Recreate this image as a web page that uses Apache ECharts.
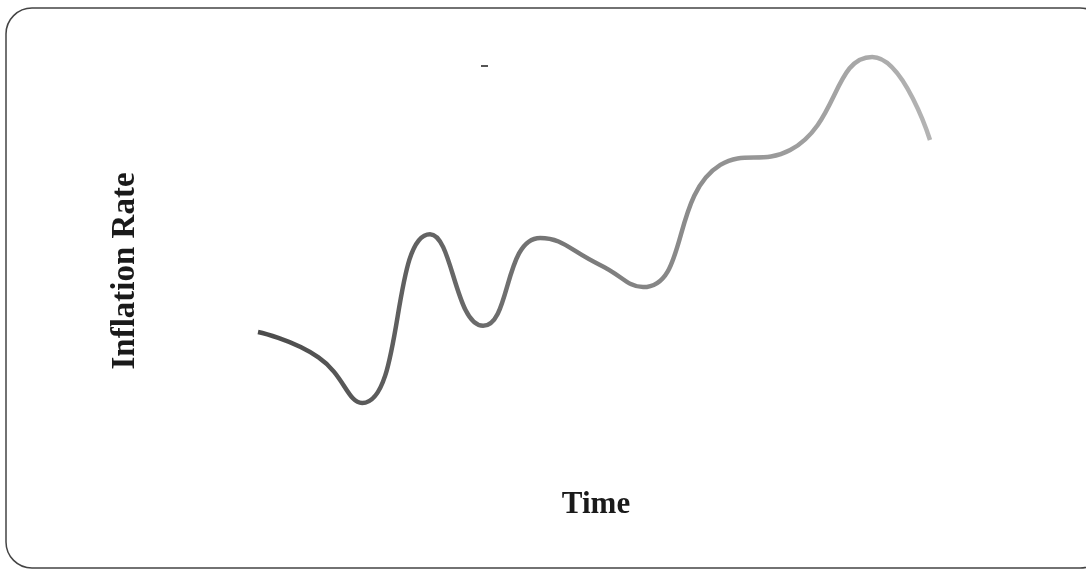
<!DOCTYPE html>
<html>
<head>
<meta charset="utf-8">
<script src="https://cdn.jsdelivr.net/npm/echarts@6/dist/echarts.min.js"></script>
<style>
html,body{margin:0;padding:0;background:#fff;}
#chart{width:1086px;height:570px;}
</style>
</head>
<body>
<div id="chart"></div>
<script>
// Time (arbitrary units) and inflation rate (arbitrary units)
var times = [0, 9.0, 15.5, 25.6, 33.5, 42.0, 50.9, 57.3, 68.8, 79.2, 91.4, 100];
var rates = [2.05, 1.32, 0.0, 4.88, 2.23, 4.77, 3.99, 3.35, 6.88, 7.31, 10.0, 7.60];
var xTitle = 'Time';
var yTitle = 'Inflation Rate';

var points = times.map(function (t, i) { return [t, rates[i]]; });

var chart = echarts.init(document.getElementById('chart'), null, {renderer: 'canvas'});
chart.setOption({
  backgroundColor: '#ffffff',
  animation: false,
  grid: {left: 258, right: 156, top: 22.4, bottom: 132.4},
  xAxis: {
    type: 'value', min: 0, max: 100,
    axisLine: {show: false}, axisTick: {show: false}, axisLabel: {show: false}, splitLine: {show: false}
  },
  yAxis: {
    type: 'value', min: -1, max: 11,
    axisLine: {show: false}, axisTick: {show: false}, axisLabel: {show: false}, splitLine: {show: false}
  },
  graphic: [
    {type: 'rect', shape: {x: 6, y: 8, width: 1100, height: 560, r: 26},
     style: {fill: 'none', stroke: '#444', lineWidth: 1.5}, z: 0},
    {type: 'rect', shape: {x: 481, y: 65, width: 7, height: 2},
     style: {fill: '#555'}, z: 0},
    {type: 'text', x: 596, y: 505, z: 5,
     style: {text: xTitle, font: 'bold 31px "Liberation Serif", "DejaVu Serif", serif', fill: '#1a1a1a',
             textAlign: 'center', textVerticalAlign: 'middle'}},
    {type: 'text', x: 125, y: 271, rotation: Math.PI / 2, z: 5,
     style: {text: yTitle, font: 'bold 33px "Liberation Serif", "DejaVu Serif", serif', fill: '#1a1a1a',
             textAlign: 'center', textVerticalAlign: 'middle'}}
  ],
  series: [{
    type: 'line',
    data: points,
    smooth: 0.5,
    showSymbol: false,
    lineStyle: {
      width: 4.5,
      color: new echarts.graphic.LinearGradient(0, 0, 1, 0, [
        {offset: 0, color: '#4a4a4a'},
        {offset: 0.5, color: '#7c7c7c'},
        {offset: 1, color: '#b4b4b4'}
      ])
    }
  }]
});
</script>
</body>
</html>
